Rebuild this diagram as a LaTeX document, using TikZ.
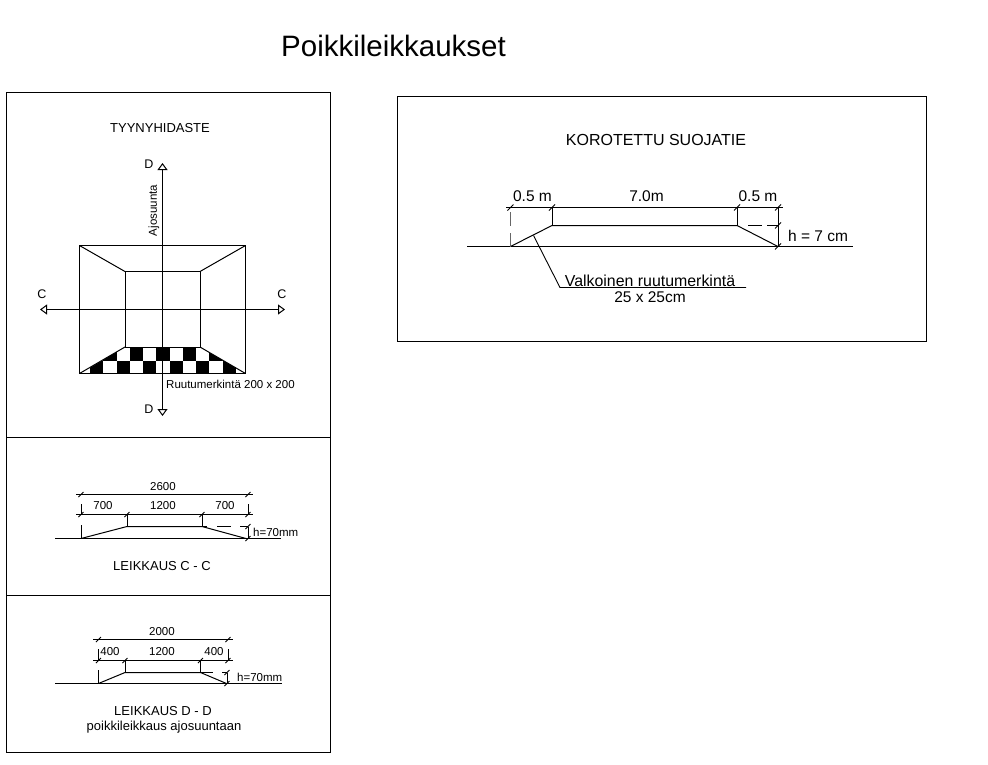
\documentclass[tikz,border=0pt]{standalone}
\usepackage{fontspec}
\usepackage{xcolor}
\setmainfont{Liberation Sans}
\usetikzlibrary{arrows.meta}

\tikzset{
    panel/.style={line width=1pt},
    edge/.style={line width=1pt},
    thinline/.style={line width=0.9pt},
    axis/.style={line width=1pt, {Triangle[open,length=7pt,width=10pt]}-{Triangle[open,length=7pt,width=10pt]}},
    small/.style={inner sep=0pt, font=\fontsize{11.5}{11.5}\selectfont},
    letter/.style={inner sep=0pt, font=\fontsize{12.5}{12.5}\selectfont},
    label/.style={inner sep=0pt, font=\fontsize{13}{13}\selectfont},
    big/.style={inner sep=0pt, font=\fontsize{15.5}{15.5}\selectfont},
}

\begin{document}
\begin{tikzpicture}[x=1pt, y=-1pt]
    \useasboundingbox (0,0) rectangle (988,764);

    % Title
    \node[inner sep=0pt, font=\fontsize{29.5}{29.5}\selectfont] (title) at (393.5,46) {Poikkileikkaukset};

    % Draw the panels
    \draw[panel] (6.5,92.5) rectangle (330.5,752.5);
    \draw[panel] (6.5,437.5) -- (330.5,437.5);
    \draw[panel] (6.5,595.5) -- (330.5,595.5);
    \draw[panel] (397.5,96.5) rectangle (926.5,341.5);

    % Checker marking, clipped to the front slope
    \begin{scope}
        \clip (79.5,374) -- (125,347) -- (200,347) -- (246,374) -- cycle;
        \foreach \k in {0,2,...,10} {
            \fill[black] ({90+13.27*\k},360.5) rectangle ({103.27+13.27*\k},374);
        }
        \foreach \k in {1,3,...,9} {
            \fill[black] ({90+13.27*\k},347) rectangle ({103.27+13.27*\k},360.5);
        }
    \end{scope}

    % Draw the hump seen from above
    \coordinate (A) at (79.5,245.5);
    \coordinate (B) at (245.5,245.5);
    \coordinate (E) at (245.5,373.5);
    \coordinate (F) at (79.5,373.5);
    \coordinate (a) at (125,271.5);
    \coordinate (b) at (200,271.5);
    \coordinate (e) at (200,347);
    \coordinate (f) at (125,347);
    \draw[edge] (A) -- (B) -- (E) -- (F) -- cycle;
    \draw[edge] (a) -- (b) -- (e) -- (f) -- cycle;
    \draw[edge] (A) -- (a) (B) -- (b) (E) -- (e) (F) -- (f);

    % Draw the section lines
    \coordinate (Dtop) at (162.5,163);
    \coordinate (Dbot) at (162.5,416);
    \coordinate (Cleft) at (40,309.5);
    \coordinate (Cright) at (285,309.5);
    \draw[axis] (Dtop) -- (Dbot);
    \draw[axis] (Cleft) -- (Cright);

    \node[label] (head1) at (160,128) {TYYNYHIDASTE};
    \node[letter] (dtop) at (149,164) {D};
    \node[letter] (dbot) at (149,409) {D};
    \node[letter] (cleft) at (42,294.5) {C};
    \node[letter] (cright) at (282,294.5) {C};
    \node[small, rotate=90] (drive) at (154,210.5) {Ajosuunta};
    \node[small, anchor=west] (mark) at (166,384) {Ruutumerkintä 200 x 200};

    % Section C - C
    \coordinate (c1) at (81,538.5);
    \coordinate (c2) at (127,526.5);
    \coordinate (c3) at (202,526.5);
    \coordinate (c4) at (246,538.5);
    \draw[edge] (55,538.5) -- (281,538.5);
    \draw[edge] (c1) -- (c2) -- (c3) -- (c4);
    \draw[thinline] (76,494.5) -- (253,494.5);
    \draw[thinline] (76,514.5) -- (253,514.5);
    \draw[thinline] (127,514.5) -- (c2);
    \draw[thinline] (202,514.5) -- (c3);
    \draw[thinline] (81,504) -- (81,514.5) (81,525) -- (c1);
    \draw[thinline] (248,504) -- (248,514.5);
    \draw[thinline] (248,526.5) -- (248,538.5);
    \draw[thinline] (c3) -- (207,526.5) (217,526.5) -- (231,526.5) (240,526.5) -- (248,526.5);
    \foreach \x/\y in {81/494.5,248/494.5,81/514.5,127/514.5,202/514.5,248/514.5,248/526.5,248/538.5} {
        \draw[thinline] (\x-2.5,\y+2.5) -- (\x+2.5,\y-2.5);
    }
    \node[small] (c2600) at (163,486.5) {2600};
    \node[small] (c700a) at (103,506) {700};
    \node[small] (c1200) at (163,506) {1200};
    \node[small] (c700b) at (225,506) {700};
    \node[small, anchor=west] (ch) at (253,532.5) {h=70mm};
    \node[label] (ctext) at (162,566) {LEIKKAUS C - C};

    % Section D - D
    \coordinate (d1) at (98.5,683.5);
    \coordinate (d2) at (125,672.5);
    \coordinate (d3) at (200.5,672.5);
    \coordinate (d4) at (226.5,683.5);
    \draw[edge] (55,683.5) -- (282,683.5);
    \draw[edge] (d1) -- (d2) -- (d3) -- (d4);
    \draw[thinline] (93,639.5) -- (233,639.5);
    \draw[thinline] (93,660.5) -- (233,660.5);
    \draw[thinline] (125,660.5) -- (d2);
    \draw[thinline] (200.5,660.5) -- (d3);
    \draw[thinline] (98.5,649) -- (98.5,660.5) (98.5,670) -- (d1);
    \draw[thinline] (228,649) -- (228,660.5);
    \draw[thinline] (227,672.5) -- (227,683.5);
    \draw[thinline] (d3) -- (212.5,672.5) (222,672.5) -- (227,672.5);
    \foreach \x/\y in {98.5/639.5,228/639.5,98.5/660.5,125/660.5,200.5/660.5,228/660.5,227/672.5,227/683.5} {
        \draw[thinline] (\x-2.5,\y+2.5) -- (\x+2.5,\y-2.5);
    }
    \node[small] (d2000) at (162,631.5) {2000};
    \node[small] (d400a) at (110,652) {400};
    \node[small] (d1200) at (162,652) {1200};
    \node[small] (d400b) at (214,652) {400};
    \node[small, anchor=west] (dh) at (237,677.5) {h=70mm};
    \node[label] (dtext) at (163,711) {LEIKKAUS D - D};
    \node[label] (dtext2) at (164,727) {poikkileikkaus ajosuuntaan};

    % Raised crossing
    \node[inner sep=0pt, font=\fontsize{16}{16}\selectfont] (head2) at (656,140) {KOROTETTU SUOJATIE};
    \coordinate (k1) at (510.5,246.5);
    \coordinate (k2) at (552,225.5);
    \coordinate (k3) at (737,225.5);
    \coordinate (k4) at (778,246.5);
    \coordinate (bend) at (560,287.5);
    \coordinate (lead) at (533.5,235.5);
    \draw[edge] (467,246.5) -- (853,246.5);
    \draw[edge] (k1) -- (k2) -- (k3) -- (k4);
    \draw[thinline] (506,207.5) -- (783,207.5);
    \draw[thinline] (k2) -- (552,207.5);
    \draw[thinline] (k3) -- (737,207.5);
    \draw[thinline] (778,207.5) -- (k4);
    \draw[thinline, black!60] (510.5,212) -- (510.5,226) (510.5,233) -- (k1);
    \draw[thinline] (748,225.5) -- (762,225.5) (767,225.5) -- (778,225.5);
    \draw[thinline] (lead) -- (bend) -- (746,287.5);
    \foreach \x/\y in {510.5/207.5,552/207.5,737/207.5,778/207.5,778/225.5,778/246.5} {
        \draw[thinline] (\x-3,\y+3) -- (\x+3,\y-3);
    }
    \node[big] (k05a) at (532.5,196.5) {0.5 m};
    \node[big] (k70) at (646.5,196.5) {7.0m};
    \node[big] (k05b) at (758,196.5) {0.5 m};
    \node[big, anchor=west] (kh) at (788,235.5) {h = 7 cm};
    \node[inner sep=0pt, font=\fontsize{15.9}{15.9}\selectfont] (ktext) at (650,280.5) {Valkoinen ruutumerkintä};
    \node[big] (ktext2) at (650,297) {25 x 25cm};

\end{tikzpicture}
\end{document}
